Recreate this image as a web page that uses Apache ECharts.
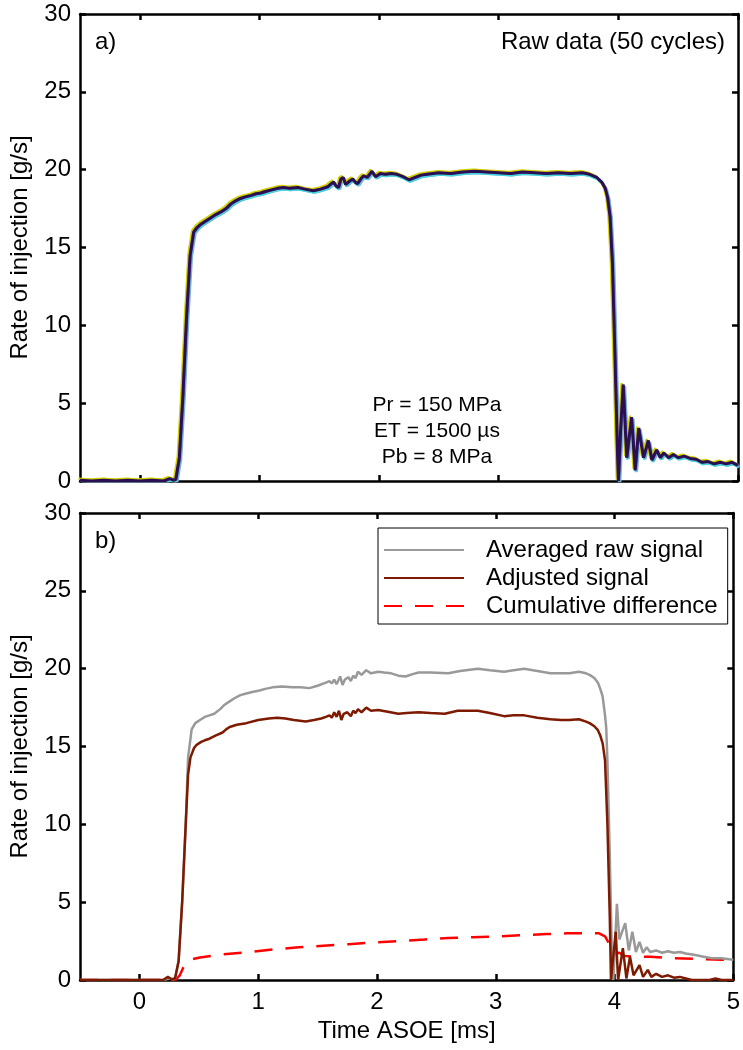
<!DOCTYPE html>
<html>
<head>
<meta charset="utf-8">
<script src="https://cdn.jsdelivr.net/npm/echarts@6/dist/echarts.min.js"></script>
<style>
html,body{margin:0;padding:0;background:#fff;}
#chart{width:743px;height:1050px;}
</style>
</head>
<body>
<div id="chart"></div>
<script>
// ---- data ----
const xTicks = [0, 1, 2, 3, 4, 5];
const yTicks = [0, 5, 10, 15, 20, 25, 30];

// panel a: one representative raw cycle
const timeRaw = [-0.5,-0.4,-0.3,-0.2,-0.1,0,0.1,0.2,0.25,0.28,0.3,0.33,0.36,0.39,0.42,0.45,0.48,0.51,0.55,0.59,0.63,0.68,0.72,0.76,0.8,0.84,0.88,0.93,0.97,1.01,1.05,1.1,1.15,1.2,1.25,1.32,1.38,1.45,1.51,1.57,1.6,1.62,1.64,1.66,1.68,1.7,1.72,1.73,1.75,1.78,1.8,1.82,1.85,1.87,1.9,1.94,1.97,2.01,2.05,2.1,2.15,2.2,2.25,2.3,2.35,2.4,2.45,2.5,2.6,2.7,2.8,2.9,3.0,3.1,3.2,3.3,3.4,3.5,3.6,3.7,3.76,3.82,3.86,3.89,3.91,3.93,3.95,3.97,3.99,4.0,4.02,4.04,4.07,4.11,4.14,4.17,4.21,4.25,4.28,4.32,4.35,4.38,4.42,4.46,4.5,4.55,4.6,4.65,4.7,4.75,4.8,4.85,4.9,4.95,5.0];
const rateRaw = [0.05,0,0.05,0,0.05,0,0.05,0,0.15,0.05,0.1,1.5,5.5,10.5,14.5,16.0,16.3,16.5,16.7,16.9,17.1,17.3,17.5,17.8,18.0,18.15,18.25,18.35,18.45,18.5,18.6,18.7,18.8,18.85,18.8,18.85,18.75,18.65,18.75,18.9,19.1,19.2,18.95,18.85,19.4,19.5,19.05,18.95,19.25,19.4,19.2,19.1,19.45,19.6,19.5,19.9,19.55,19.75,19.7,19.75,19.7,19.55,19.35,19.5,19.65,19.7,19.75,19.8,19.75,19.85,19.9,19.85,19.8,19.75,19.85,19.8,19.75,19.8,19.75,19.8,19.7,19.5,19.2,18.8,18.2,17.0,14.0,8.4,2.5,0,3.5,6.2,1.5,4.1,0.7,3.4,1.5,2.6,1.35,2.0,1.5,1.8,1.5,1.7,1.5,1.6,1.45,1.4,1.2,1.25,1.1,1.2,1.1,1.2,1.0];

// panel b: averaged raw signal
const timeAvg = [-0.5,0,0.2,0.25,0.28,0.3,0.33,0.36,0.39,0.41,0.44,0.47,0.51,0.55,0.59,0.63,0.68,0.72,0.76,0.8,0.85,0.9,0.95,1.01,1.06,1.12,1.2,1.29,1.36,1.43,1.5,1.57,1.6,1.62,1.64,1.66,1.69,1.71,1.73,1.76,1.78,1.8,1.82,1.84,1.87,1.91,1.95,2.01,2.06,2.12,2.18,2.24,2.3,2.35,2.45,2.6,2.7,2.85,2.95,3.07,3.15,3.24,3.35,3.46,3.55,3.62,3.7,3.76,3.79,3.83,3.86,3.88,3.9,3.92,3.93,3.94,3.96,3.98,3.99,4.02,4.04,4.09,4.12,4.15,4.18,4.21,4.24,4.27,4.3,4.35,4.4,4.45,4.5,4.55,4.6,4.68,4.75,4.82,4.9,5.0];
const rateAvg = [0,0,0,0.1,0.05,0.1,1.2,5,10,14.3,16.1,16.5,16.7,16.9,17.0,17.1,17.4,17.7,17.9,18.1,18.3,18.4,18.5,18.6,18.7,18.8,18.85,18.8,18.8,18.75,18.9,19.1,19.2,19.05,19.3,19.0,19.5,18.95,19.3,19.45,19.2,19.55,19.4,19.8,19.6,19.9,19.7,19.8,19.75,19.7,19.55,19.5,19.65,19.75,19.75,19.7,19.85,20.0,19.9,19.8,19.9,20.0,19.85,19.7,19.7,19.7,19.8,19.7,19.6,19.4,19.1,18.7,18.2,17.0,16.2,14.1,8,0.5,0,4.9,2.6,3.65,1.9,3.1,1.8,2.45,1.75,2.1,1.8,1.9,1.75,1.85,1.75,1.8,1.7,1.6,1.5,1.4,1.4,1.3];

// panel b: adjusted signal
const timeAdj = [-0.5,0,0.2,0.24,0.27,0.3,0.33,0.36,0.39,0.41,0.43,0.46,0.48,0.52,0.55,0.59,0.64,0.7,0.73,0.76,0.82,0.9,1.0,1.09,1.16,1.23,1.3,1.4,1.47,1.53,1.57,1.6,1.62,1.64,1.66,1.68,1.7,1.72,1.75,1.78,1.8,1.82,1.84,1.87,1.91,1.95,2.01,2.08,2.18,2.25,2.35,2.45,2.57,2.68,2.85,2.95,3.07,3.15,3.24,3.35,3.46,3.55,3.62,3.7,3.76,3.79,3.83,3.86,3.88,3.9,3.92,3.94,3.96,3.97,4.01,4.03,4.07,4.1,4.13,4.16,4.21,4.24,4.28,4.31,4.35,4.4,4.45,4.5,4.55,4.6,4.65,4.7,4.8,4.85,4.9,5.0];
const rateAdj = [0,0,0,0.2,0.05,0.1,1.2,5,10,13.2,14.3,14.9,15.1,15.3,15.4,15.5,15.7,15.9,16.1,16.25,16.4,16.5,16.7,16.8,16.85,16.8,16.7,16.6,16.7,16.8,16.9,17.0,16.85,17.2,16.9,17.3,16.7,17.1,17.2,16.95,17.3,17.15,17.4,17.2,17.5,17.3,17.35,17.25,17.1,17.15,17.2,17.15,17.1,17.3,17.3,17.15,16.95,17.0,17.0,16.85,16.75,16.7,16.7,16.75,16.6,16.5,16.3,16.05,15.7,15.2,14.1,10,4,0,3.1,0,2.05,0.1,1.5,0.3,0.95,0.2,0.65,0.2,0.4,0.2,0.3,0.15,0.2,0.1,0,0,0,0.1,0,0];

// panel b: cumulative difference
const timeCum = [-0.5,0.2,0.25,0.28,0.31,0.34,0.37,0.41,0.45,0.51,0.7,0.93,1.1,1.34,1.55,1.76,2.0,2.18,2.4,2.6,2.8,3.01,3.2,3.43,3.6,3.71,3.87,3.92,3.95,3.97,4.0,4.04,4.08,4.15,4.3,4.5,4.7,4.9,5.0];
const rateCum = [0,0,0.1,0,0.05,0.3,0.8,1.2,1.35,1.45,1.65,1.8,1.95,2.1,2.2,2.3,2.42,2.5,2.6,2.7,2.75,2.8,2.88,2.95,3.0,3.0,3.0,2.8,2.4,1.8,1.7,1.75,1.55,1.5,1.5,1.4,1.35,1.3,1.3];

const legendNames = ['Averaged raw signal', 'Adjusted signal', 'Cumulative difference'];

// ---- chart ----
const zip = (xs, ys) => xs.map((x, i) => [x, ys[i]]);
const FONT = 'Liberation Sans, Arial, Helvetica, sans-serif';
const FS = 24;
const FS_NOTE = 21;

const grids = [
  { left: 79, top: 14, width: 659, height: 467 },
  { left: 79, top: 513, width: 659, height: 467 }
];

function xAx(gi, pos, labels, name) {
  return {
    type: 'value', gridIndex: gi, position: pos, min: -0.5, max: 5,
    axisLine: { show: true, onZero: false, lineStyle: { color: '#000', width: 2.5 } },
    axisTick: { show: true, inside: true, length: 6, customValues: xTicks, lineStyle: { color: '#000', width: 2.5 } },
    axisLabel: { show: labels, customValues: xTicks, color: '#000', fontFamily: FONT, fontSize: FS, margin: 10 },
    splitLine: { show: false },
    name: name || '', nameLocation: 'middle', nameGap: 39,
    nameTextStyle: { color: '#000', fontFamily: FONT, fontSize: FS }
  };
}
function yAx(gi, pos, labels, name) {
  return {
    type: 'value', gridIndex: gi, position: pos, min: 0, max: 30, interval: 5,
    axisLine: { show: true, onZero: false, lineStyle: { color: '#000', width: 2.5 } },
    axisTick: { show: true, inside: true, length: 6, lineStyle: { color: '#000', width: 2.5 } },
    axisLabel: { show: labels, color: '#000', fontFamily: FONT, fontSize: FS, margin: 9 },
    splitLine: { show: false },
    name: name || '', nameLocation: 'middle', nameGap: 48, nameRotate: 90,
    nameTextStyle: { color: '#000', fontFamily: FONT, fontSize: FS }
  };
}

const lineBase = { type: 'line', showSymbol: false, symbol: 'none', animation: false, silent: true };

const option = {
  animation: false,
  backgroundColor: '#fff',
  grid: grids,
  xAxis: [
    xAx(0, 'bottom', false), xAx(0, 'top', false),
    xAx(1, 'bottom', true, 'Time ASOE [ms]'), xAx(1, 'top', false)
  ],
  yAxis: [
    yAx(0, 'left', true, 'Rate of injection [g/s]'), yAx(0, 'right', false),
    yAx(1, 'left', true, 'Rate of injection [g/s]'), yAx(1, 'right', false)
  ],
  legend: {
    data: legendNames,
    orient: 'vertical', left: 378, top: 528,
    itemWidth: 80, itemHeight: 20, itemGap: 4,
    padding: [10, 10, 6, 5],
    backgroundColor: '#fff', borderColor: '#000', borderWidth: 1, borderRadius: 0,
    itemStyle: { color: 'rgba(0,0,0,0)', borderWidth: 0, borderColor: 'rgba(0,0,0,0)', opacity: 0 },
    textStyle: { color: '#000', fontFamily: FONT, fontSize: FS, lineHeight: 20, padding: [0, 0, 0, 17] },
    selectedMode: false
  },
  series: [
    // panel a: spread of the 50 cycles drawn as coloured halos around the cycle trace
    Object.assign({}, lineBase, { name: 'cyc1', xAxisIndex: 0, yAxisIndex: 0, data: zip(timeRaw, rateRaw),
      lineStyle: { color: '#9fc7d8', width: 3, shadowColor: '#7fb0d0', shadowBlur: 0, shadowOffsetX: 1.5, shadowOffsetY: 1.5 } }),
    Object.assign({}, lineBase, { name: 'cyc2', xAxisIndex: 0, yAxisIndex: 0, data: zip(timeRaw, rateRaw),
      lineStyle: { color: '#3fe0d0', width: 2, shadowColor: '#40d8e0', shadowBlur: 0, shadowOffsetX: 0.5, shadowOffsetY: 2 } }),
    Object.assign({}, lineBase, { name: 'cyc3', xAxisIndex: 0, yAxisIndex: 0, data: zip(timeRaw, rateRaw),
      lineStyle: { color: '#c8c400', width: 2.5, shadowColor: '#d2d000', shadowBlur: 0, shadowOffsetX: -1.5, shadowOffsetY: -1.5 } }),
    Object.assign({}, lineBase, { name: 'cyc4', xAxisIndex: 0, yAxisIndex: 0, data: zip(timeRaw, rateRaw),
      lineStyle: { color: '#b060b0', width: 1.5, shadowColor: '#5060d0', shadowBlur: 0, shadowOffsetX: 1, shadowOffsetY: 0.5 } }),
    Object.assign({}, lineBase, { name: 'cyc5', xAxisIndex: 0, yAxisIndex: 0, data: zip(timeRaw, rateRaw),
      lineStyle: { color: '#2a0f55', width: 3 } }),
    // panel b
    Object.assign({}, lineBase, { name: legendNames[0], xAxisIndex: 2, yAxisIndex: 2, data: zip(timeAvg, rateAvg),
      itemStyle: { color: '#999999' }, lineStyle: { color: '#999999', width: 2.5 } }),
    Object.assign({}, lineBase, { name: legendNames[1], xAxisIndex: 2, yAxisIndex: 2, data: zip(timeAdj, rateAdj),
      itemStyle: { color: '#7e1a00' }, lineStyle: { color: '#7e1a00', width: 2.5 } }),
    Object.assign({}, lineBase, { name: legendNames[2], xAxisIndex: 2, yAxisIndex: 2, data: zip(timeCum, rateCum), z: 1,
      itemStyle: { color: '#ff0000' }, lineStyle: { color: '#ff0000', width: 2.5, type: [18, 13] } })
  ],
  graphic: [
    { type: 'text', left: 95, top: 30, style: { text: 'a)', font: FS + 'px ' + FONT, fill: '#000' } },
    { type: 'text', right: 18, top: 30, style: { text: 'Raw data (50 cycles)', font: FS + 'px ' + FONT, fill: '#000' } },
    { type: 'text', x: 437, y: 405, style: { text: 'Pr = 150 MPa', font: FS_NOTE + 'px ' + FONT, fill: '#000', align: 'center', verticalAlign: 'middle' } },
    { type: 'text', x: 437, y: 431, style: { text: 'ET = 1500 µs', font: FS_NOTE + 'px ' + FONT, fill: '#000', align: 'center', verticalAlign: 'middle' } },
    { type: 'text', x: 437, y: 457, style: { text: 'Pb = 8 MPa', font: FS_NOTE + 'px ' + FONT, fill: '#000', align: 'center', verticalAlign: 'middle' } },
    { type: 'text', left: 95, top: 529, style: { text: 'b)', font: FS + 'px ' + FONT, fill: '#000' } }
  ]
};

const chart = echarts.init(document.getElementById('chart'), null, { renderer: 'canvas' });
chart.setOption(option);
</script>
</body>
</html>
